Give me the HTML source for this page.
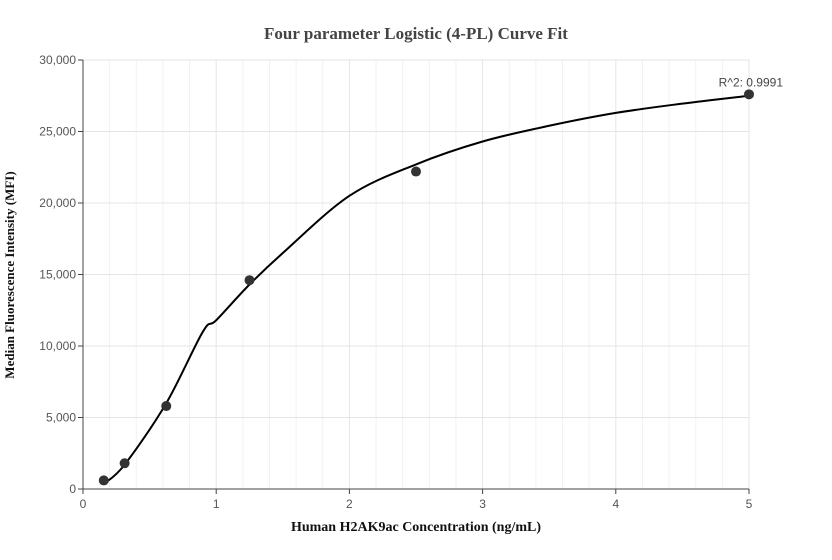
<!DOCTYPE html>
<html><head><meta charset="utf-8"><style>
body{margin:0;background:#fff;}
svg{display:block;font-family:"Liberation Sans",sans-serif;}
</style></head><body>
<svg id="chart" width="832" height="560">
<text x="416" y="39" text-anchor="middle" font-family="Liberation Serif,serif" font-weight="bold" font-size="17" fill="#444">Four parameter Logistic (4-PL) Curve Fit</text>
<text x="416" y="531" text-anchor="middle" font-family="Liberation Serif,serif" font-weight="bold" font-size="14" fill="#111">Human H2AK9ac Concentration (ng/mL)</text>
<text transform="translate(14,275) rotate(-90)" text-anchor="middle" font-family="Liberation Serif,serif" font-weight="bold" font-size="13" fill="#111">Median Fluorescence Intensity (MFI)</text>
<g id="grid"></g><g id="axes"></g><g id="series"></g>
</svg>
<script>
const xTicks=[0,1,2,3,4,5];
const yTicks=[0,5000,10000,15000,20000,25000,30000];
const pointX=[0.156,0.3125,0.625,1.25,2.5,5];
const pointY=[600,1800,5800,14600,22200,27600];
const curveX=[0.156,0.3125,0.625,0.9,1.0,1.25,1.5,2,2.5,3,3.5,4,4.5,5];
const curveY=[350,1700,6000,11000,11800,14300,16500,20500,22700,24300,25400,26300,26950,27500];
const r2Label="R^2: 0.9991";
const X0=83,X1=749,Y0=489,Y1=60;
const sx=v=>X0+(v-0)/5*(X1-X0);
const sy=v=>Y0-(v/30000)*(Y0-Y1);
const NS="http://www.w3.org/2000/svg";
function mk(tag,attrs,parent){const e=document.createElementNS(NS,tag);for(const k in attrs)e.setAttribute(k,attrs[k]);parent.appendChild(e);return e;}
const grid=document.getElementById('grid'),axes=document.getElementById('axes'),series=document.getElementById('series');
for(let i=0;i<=25;i++){const v=i*0.2;if(i%5===0)continue;
 const l=mk('line',{x1:sx(v),x2:sx(v),y1:Y1,y2:Y0,stroke:'#f0f2f2','stroke-width':1},grid);
 
 }
xTicks.forEach(v=>{if(v===0)return;
 const l=mk('line',{x1:sx(v),x2:sx(v),y1:Y1,y2:Y0,stroke:'#e3e6e6','stroke-width':1},grid);
 
 });
yTicks.forEach(v=>{if(v===0)return;
 const l=mk('line',{x1:X0,x2:X1,y1:sy(v),y2:sy(v),stroke:'#e3e6e6','stroke-width':1},grid);
 
 });
let a=mk('line',{x1:X0,x2:X0,y1:Y1,y2:Y0,stroke:'#444','stroke-width':1},axes);


a=mk('line',{x1:X0,x2:X1,y1:Y0,y2:Y0,stroke:'#444','stroke-width':1},axes);


xTicks.forEach(v=>{
 const t=mk('line',{x1:sx(v),x2:sx(v),y1:Y0,y2:Y0+5,stroke:'#444'},axes);
 
 
 const tx=mk('text',{x:sx(v),y:Y0+19,'text-anchor':'middle','font-size':12,fill:'#555'},axes);
 tx.textContent=v;
 
 });
yTicks.forEach(v=>{
 const t=mk('line',{x1:X0-5,x2:X0,y1:sy(v),y2:sy(v),stroke:'#444'},axes);
 
 
 const tx=mk('text',{x:X0-7,y:sy(v)+4,'text-anchor':'end','font-size':12,fill:'#555'},axes);
 tx.textContent=v.toLocaleString('en-US');
 
 });
// smooth curve via Catmull-Rom
const pts=curveX.map((x,i)=>[sx(x),sy(curveY[i])]);
let d='M'+pts[0][0]+','+pts[0][1];
for(let i=0;i<pts.length-1;i++){const p0=pts[i-1]||pts[i],p1=pts[i],p2=pts[i+1],p3=pts[i+2]||p2;
 d+=` C${p1[0]+(p2[0]-p0[0])/6},${p1[1]+(p2[1]-p0[1])/6} ${p2[0]-(p3[0]-p1[0])/6},${p2[1]-(p3[1]-p1[1])/6} ${p2[0]},${p2[1]}`;}
const c=mk('path',{d:d,fill:'none',stroke:'#000','stroke-width':2},series);


pointX.forEach((x,i)=>{
 const p=mk('circle',{cx:sx(x),cy:sy(pointY[i]),r:5,fill:'#333'},series);
 
 });
const r=mk('text',{x:sx(5)+34,y:sy(pointY[pointY.length-1])-8,'text-anchor':'end','font-size':12,fill:'#444'},series);
r.textContent=r2Label;


</script>
</body></html>
